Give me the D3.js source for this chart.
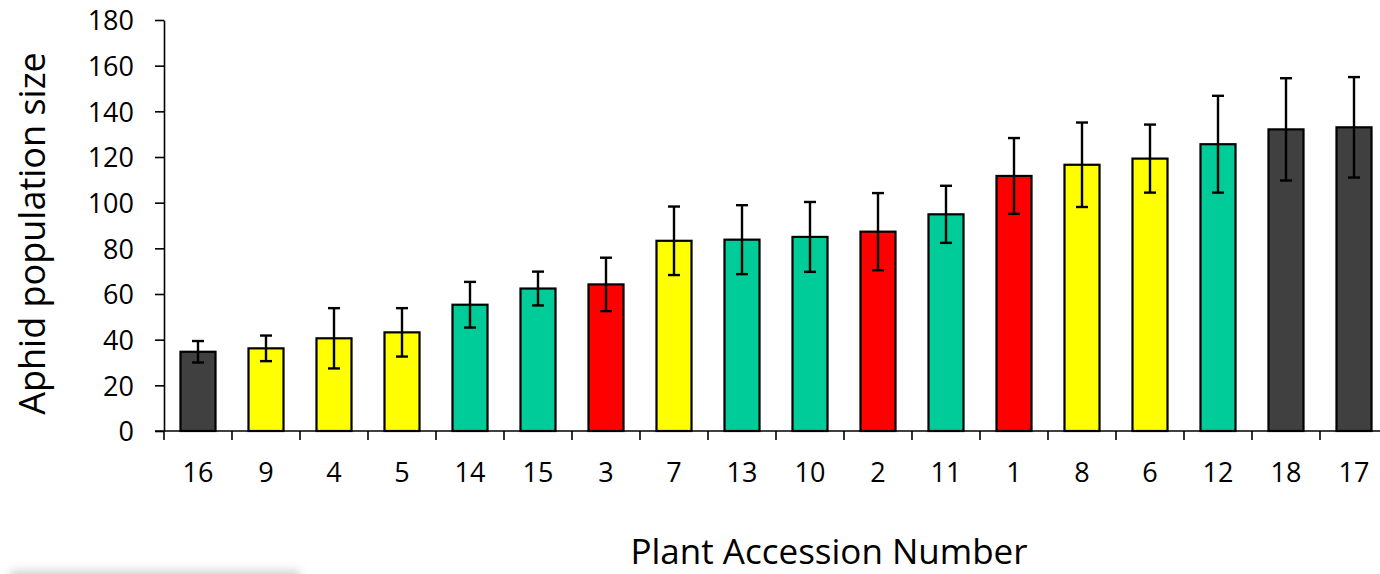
<!DOCTYPE html>
<html>
<head>
<meta charset="utf-8">
<script src="https://cdn.jsdelivr.net/npm/d3@7"></script>
<style>
  body { margin: 0; background: #fff; }
  text { font-family: "Open Sans", sans-serif; fill: #000; }
</style>
</head>
<body>
<div id="graph"></div>
<script>
// accession numbers, in plotted order
var accessions = ["16","9","4","5","14","15","3","7","13","10","2","11","1","8","6","12","18","17"]
// mean aphid population size per accession
var means = [34.7, 36.2, 40.6, 43.2, 55.3, 62.4, 64.2, 83.3, 83.8, 85.0, 87.3, 94.9, 111.7, 116.6, 119.3, 125.6, 132.1, 133.0]
// error bar half-length
var errors = [4.7, 5.6, 13.2, 10.6, 10.0, 7.4, 11.7, 15.0, 15.1, 15.3, 16.9, 12.5, 16.6, 18.5, 14.9, 21.2, 22.4, 22.0]
// colour group of each accession
var groups = ["dark","yellow","yellow","yellow","green","green","red","yellow","green","green","red","green","red","yellow","yellow","green","dark","dark"]
var yTicks = [0, 20, 40, 60, 80, 100, 120, 140, 160, 180]

var w = 1380, h = 574
var plotLeft = 164, plotRight = 1388, plotTop = 20, plotBottom = 431

var colour = d3.scaleOrdinal()
  .domain(["dark", "yellow", "green", "red"])
  .range(["#404040", "#FFFF00", "#00CC99", "#FF0000"])

var data = accessions.map((a, i) => ({
  acc: a, mean: means[i], err: errors[i], group: groups[i]
}))

var svg = d3.select('#graph')
  .append('svg')
  .attr("width", w)
  .attr("height", h)

// soft shadow strip at the bottom left of the picture
var defs = svg.append("defs")
defs.append("filter").attr("id", "blur")
  .attr("x", "-20%").attr("y", "-200%").attr("width", "140%").attr("height", "500%")
  .append("feGaussianBlur").attr("stdDeviation", 5)
svg.append("rect")
  .attr("x", 10).attr("y", 571).attr("width", 290).attr("height", 14)
  .attr("fill", "#cfcfcf")
  .attr("filter", "url(#blur)")

var x = d3.scaleBand()
  .domain(accessions)
  .range([plotLeft, plotRight])
  .padding(0)

var y = d3.scaleLinear()
  .domain([0, 180])
  .range([plotBottom, plotTop])

var barW = x.bandwidth() * 0.515

// bars
svg.append("g").selectAll("rect")
  .data(data)
  .enter()
  .append("rect")
  .attr("x", d => x(d.acc) + (x.bandwidth() - barW) / 2)
  .attr("y", d => y(d.mean))
  .attr("width", barW)
  .attr("height", d => y(0) - y(d.mean))
  .attr("fill", d => colour(d.group))
  .attr("stroke", "#000")
  .attr("stroke-width", 2.2)

// error bars
var eb = svg.append("g")
  .attr("stroke", "#000")
  .attr("stroke-width", 2.4)
  .selectAll("g")
  .data(data)
  .enter()
  .append("g")
  .attr("transform", d => "translate(" + (x(d.acc) + x.bandwidth() / 2) + ",0)")

eb.append("line")
  .attr("y1", d => y(d.mean + d.err))
  .attr("y2", d => y(d.mean - d.err))
eb.append("line")
  .attr("x1", -6).attr("x2", 6)
  .attr("y1", d => y(d.mean + d.err))
  .attr("y2", d => y(d.mean + d.err))
eb.append("line")
  .attr("x1", -6).attr("x2", 6)
  .attr("y1", d => y(d.mean - d.err))
  .attr("y2", d => y(d.mean - d.err))

// y axis
var yAxis = svg.append("g")
  .attr("transform", "translate(" + plotLeft + ",0)")
  .call(d3.axisLeft(y).tickValues(yTicks).tickSize(9).tickPadding(21).tickSizeOuter(0))
yAxis.select(".domain").attr("stroke-width", 1.6)
yAxis.selectAll(".tick line").attr("stroke-width", 1.6)
yAxis.selectAll("text")
  .style("font-size", "27px")
  .style("font-family", "'Open Sans', sans-serif")
  .attr("dy", "0.36em")

// x axis: ticks sit on the category boundaries
var xAxis = svg.append("g")
  .attr("transform", "translate(0," + plotBottom + ")")
xAxis.append("line")
  .attr("x1", plotLeft - 9).attr("x2", plotRight)
  .attr("stroke", "#000").attr("stroke-width", 1.6)
xAxis.selectAll(".bnd")
  .data(accessions)
  .enter()
  .append("line")
  .attr("x1", d => x(d)).attr("x2", d => x(d))
  .attr("y1", 0).attr("y2", 9)
  .attr("stroke", "#000").attr("stroke-width", 1.6)
xAxis.selectAll(".lbl")
  .data(accessions)
  .enter()
  .append("text")
  .attr("x", d => x(d) + x.bandwidth() / 2)
  .attr("y", 51)
  .attr("text-anchor", "middle")
  .style("font-size", "27px")
  .text(d => d)

// axis titles
svg.append("text")
  .attr("transform", "translate(45,233.5) rotate(-90)")
  .attr("text-anchor", "middle")
  .style("font-size", "36px")
  .text("Aphid population size")

svg.append("text")
  .attr("x", 829)
  .attr("y", 564)
  .attr("text-anchor", "middle")
  .style("font-size", "35px")
  .text("Plant Accession Number")
</script>
</body>
</html>
